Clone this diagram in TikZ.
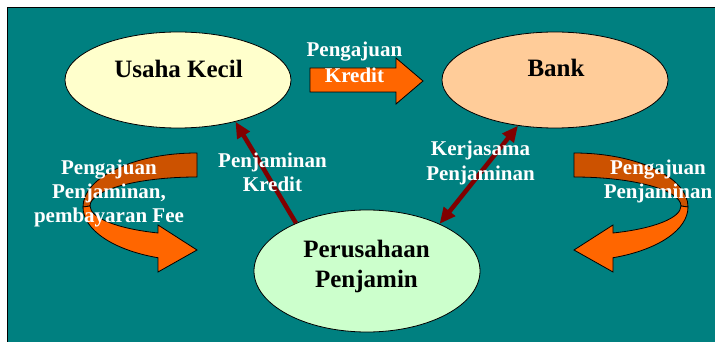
\documentclass[tikz,border=0pt]{standalone}
\usepackage{fontspec}
\setmainfont{Liberation Serif}
\usetikzlibrary{positioning,calc,arrows.meta,shapes.geometric}
\definecolor{laut}{RGB}{0,128,128}
\definecolor{krem}{RGB}{255,255,204}
\definecolor{persik}{RGB}{255,204,153}
\definecolor{hijaumuda}{RGB}{204,255,204}
\definecolor{oranye}{RGB}{255,102,0}
\definecolor{oranyetua}{RGB}{204,82,0}
\definecolor{merahtua}{RGB}{128,0,0}

\begin{document}
\begin{tikzpicture}[x=1pt,y=-1pt,
	pelaku/.style={ellipse,draw=black,line width=0.8pt,inner sep=0pt,minimum width=226pt,minimum height=96pt},
	judul/.style={font=\fontsize{25}{30}\selectfont\bfseries,align=center,inner sep=0pt},
	ket/.style={font=\fontsize{21}{24}\selectfont\bfseries,text=white,align=center,inner sep=0pt},
	panah/.style={line width=4.5pt,draw=merahtua,>={Triangle[length=16pt,width=14pt]}},
	lengkung/.style={draw=black,line width=0.8pt}]
		\useasboundingbox (0,0) rectangle (715,342);
		\clip (0,0) rectangle (715,342);
		\draw[line width=1.5pt,fill=laut] (7.5,7.5) rectangle (730,360);
		
		% para pihak
		\node[pelaku,fill=krem] (usaha) at (178,80) {};
		\node[pelaku,fill=persik] (bank) at (555,80) {};
		\node[pelaku,fill=hijaumuda,minimum height=122pt] (penjamin) at (367,271) {};
		\node[judul] (tusaha) at (178.5,68.5) {Usaha Kecil};
		\node[judul] (tbank) at (556,67.5) {Bank};
		\node[judul] (tpenjamin) at (366.5,266) {Perusahaan\\Penjamin};
		
		% panah lengkung kiri
		\filldraw[lengkung,fill=oranyetua] (197,153) arc[start angle=270,end angle=180,x radius=114,y radius=54]
			-- (90,206) arc[start angle=180,end angle=270,x radius=107,y radius=29] -- cycle;
		\filldraw[lengkung,fill=oranye] (83,207) arc[start angle=180,end angle=110,x radius=114,y radius=54]
			-- (158,272) -- (197,250) -- (158,225) -- (158,233)
			arc[start angle=111.4,end angle=180,x radius=107,y radius=29] -- cycle;
		
		% panah lengkung kanan
		\filldraw[lengkung,fill=oranyetua] (574,153) arc[start angle=270,end angle=360,x radius=114,y radius=54]
			-- (681,206) arc[start angle=0,end angle=-90,x radius=107,y radius=29] -- cycle;
		\filldraw[lengkung,fill=oranye] (688,207) arc[start angle=0,end angle=70,x radius=114,y radius=54]
			-- (613,272) -- (574,250) -- (613,225) -- (613,233)
			arc[start angle=68.6,end angle=0,x radius=107,y radius=29] -- cycle;
		
		% panah blok pengajuan kredit
		\filldraw[lengkung,fill=oranye] (310,68) -- (396,68) -- (396,58) -- (423,81)
			-- (396,104) -- (396,92) -- (310,92) -- cycle;
		
		\draw[panah,->] (penjamin.146) -- (usaha.324);
		\draw[panah,<->] (penjamin.33) -- (bank.231);
		
		\node[ket] (lblkredit) at (354.5,62.8) {Pengajuan\\[2pt]Kredit};
		\node[ket] (lblkiri) at (109,193.5) {Pengajuan\\Penjaminan,\\pembayaran Fee};
		\node[ket] (lblkanan) at (658,181.5) {Pengajuan\\Penjaminan};
		\node[ket] (lbljamin) at (272.5,172.8) {Penjaminan\\Kredit};
		\node[ket] (lblkerja) at (480.5,162.5) {Kerjasama\\[1pt]Penjaminan};
		
	\end{tikzpicture}
\end{document}
